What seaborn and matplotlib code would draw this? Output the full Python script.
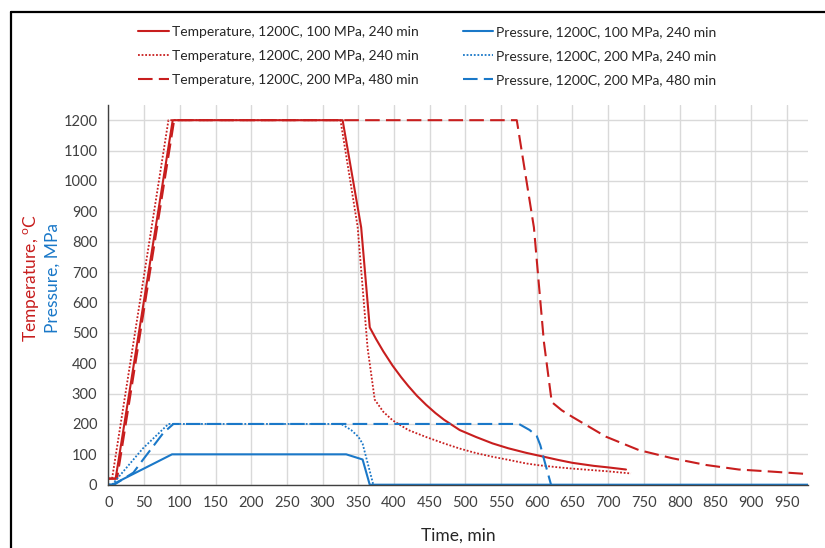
import matplotlib
matplotlib.use("Agg")
import matplotlib.pyplot as plt
import seaborn as sns
import pandas as pd
from matplotlib.lines import Line2D
from matplotlib.ticker import MultipleLocator

# temperature curves (time in min, temperature in C)
temp1_t = [0, 10, 90, 328, 354, 366, 375, 385, 398, 410, 420, 432, 445, 458, 470, 492, 515, 538, 560,
           585, 610, 631, 650, 680, 700, 725]
temp1 = [20, 20, 1200, 1200, 847, 518, 479, 439, 392, 354, 325, 293, 263, 236, 214, 180, 157, 136, 120,
         105, 92, 81, 72, 62, 57, 50]

temp2_t = [0, 5, 84, 325, 349, 363, 373, 385, 398, 420, 445, 470, 492, 515, 538, 560, 585, 603, 631, 650, 700, 732]
temp2 = [20, 20, 1200, 1200, 850, 450, 280, 240, 212, 180, 157, 136, 119, 104, 92, 82, 70, 64, 57, 53, 44, 37]

temp3_t = [0, 12, 92, 572, 596, 610, 621, 635, 650, 697, 743, 790, 837, 883, 930, 980]
temp3 = [20, 20, 1200, 1200, 847, 470, 272, 245, 223, 158, 114, 87, 65, 50, 43, 35]

# pressure curves (time in min, pressure in MPa)
pres1_t = [0, 5, 89, 333, 356, 366, 980]
pres1 = [0, 0, 100, 100, 83, 0, 0]

pres2_t = [0, 5, 48, 84, 326, 340, 350, 356, 371]
pres2 = [0, 0, 119, 200, 200, 180, 158, 135, 0]

pres3_t = [0, 8, 35, 45, 77, 91, 575, 590, 600, 605, 610, 620]
pres3 = [0, 0, 40, 72, 171, 200, 200, 180, 160, 130, 85, 0]

labels = [
    "Temperature, 1200C, 100 MPa, 240 min",
    "Temperature, 1200C, 200 MPa, 240 min",
    "Temperature, 1200C, 200 MPa, 480 min",
    "Pressure, 1200C, 100 MPa, 240 min",
    "Pressure, 1200C, 200 MPa, 240 min",
    "Pressure, 1200C, 200 MPa, 480 min",
]

RED = "#C81E1E"
BLUE = "#1A78C8"

sns.set_theme(style="white")
plt.rcParams["font.family"] = ["Lato", "DejaVu Sans"]
plt.rcParams["mathtext.fontset"] = "custom"
plt.rcParams["mathtext.rm"] = "Lato"

fig = plt.figure(figsize=(8.25, 5.48), dpi=100)
ax = fig.add_axes([0.1315, 0.1155, 0.8479, 0.6929])

series = [
    (temp1_t, temp1, RED, "-", 1.5),
    (temp2_t, temp2, RED, (0, (1, 1)), 1.3),
    (temp3_t, temp3, RED, (0, (7, 3)), 1.5),
    (pres1_t, pres1, BLUE, "-", 1.5),
    (pres2_t, pres2, BLUE, (0, (1, 1)), 1.3),
    (pres3_t, pres3, BLUE, (0, (7, 3)), 1.5),
]
for (t, v, c, ls, lw), lab in zip(series, labels):
    df = pd.DataFrame({"time": t, "value": v})
    sns.lineplot(data=df, x="time", y="value", ax=ax, color=c, linestyle=ls,
                 linewidth=lw, label=lab, legend=False)

ax.set_xlim(0, 980)
ax.set_ylim(0, 1250)
ax.xaxis.set_major_locator(MultipleLocator(50))
ax.xaxis.set_minor_locator(MultipleLocator(10))
ax.yaxis.set_major_locator(MultipleLocator(100))
ax.yaxis.set_minor_locator(MultipleLocator(20))
ax.grid(True, which="major", color="#D9D9D9", linewidth=1)
ax.set_axisbelow(True)

for s in ["top", "right"]:
    ax.spines[s].set_visible(False)
for s in ["left", "bottom"]:
    ax.spines[s].set_color("#404040")
    ax.spines[s].set_linewidth(1.0)

ax.tick_params(which="major", direction="inout", length=8, width=1, color="#404040",
               labelsize=10.5, labelcolor="#404040", pad=4)
ax.tick_params(which="minor", direction="in", length=4, width=1, color="#404040")

ax.set_xlabel("Time, min", fontsize=12.5, color="#262626", labelpad=13)
ax.set_ylabel("")

fig.text(32 / 825, 1 - 278 / 548, r"Temperature, $^{\mathrm{o}}$C", rotation=90,
         color=RED, fontsize=12.5, ha="center", va="center")
fig.text(53 / 825, 1 - 278 / 548, "Pressure, MPa", rotation=90,
         color=BLUE, fontsize=12.5, ha="center", va="center")

handles, labs = ax.get_legend_handles_labels()
fig.legend(handles, labs, ncol=2, loc="center", bbox_to_anchor=(0.518, 0.898),
           frameon=False, fontsize=10, handlelength=2.2, handletextpad=0.2,
           columnspacing=3.2, labelspacing=0.86, labelcolor="#262626")

# outer frame (cropped screenshot border)
fig.add_artist(Line2D([11 / 825, 11 / 825], [0, 1 - 12 / 548], transform=fig.transFigure,
                      color="black", linewidth=1.6))
fig.add_artist(Line2D([11 / 825, 1], [1 - 12 / 548, 1 - 12 / 548], transform=fig.transFigure,
                      color="black", linewidth=1.6))

fig.savefig("out.png", dpi=100)
